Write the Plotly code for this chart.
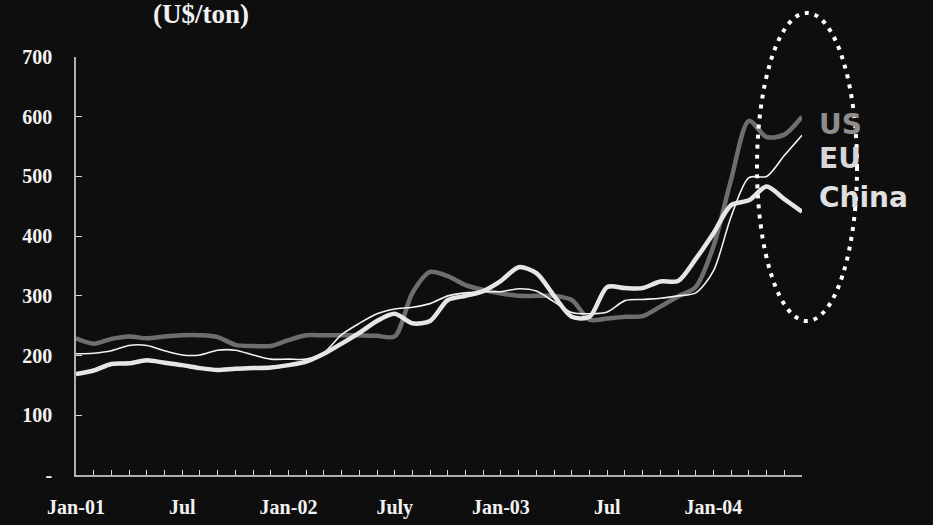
import plotly.graph_objects as go

# Monthly prices, Jan-2001 .. Jun-2004 (U$/ton)
months = list(range(42))
us = [229, 220, 228, 232, 229, 232, 234, 234, 231, 218, 216, 216, 226, 234,
      234, 234, 234, 233, 232, 305, 340, 333, 318, 310, 304, 300, 300, 300,
      293, 260, 262, 265, 266, 282, 299, 315, 383, 495, 593, 566, 570, 600]
eu = [203, 204, 208, 217, 217, 208, 201, 201, 209, 209, 201, 194, 194, 194,
      205, 235, 254, 270, 278, 281, 287, 300, 305, 307, 307, 312, 308, 290,
      272, 270, 273, 292, 294, 296, 300, 305, 342, 433, 498, 500, 535, 569]
china = [169, 175, 186, 187, 192, 188, 184, 179, 176, 178, 179, 180, 184, 190,
         203, 220, 238, 258, 270, 254, 258, 293, 300, 308, 325, 348, 338, 300,
         265, 265, 315, 313, 313, 324, 325, 362, 405, 452, 460, 483, 462, 441]

x_labels = {0: "Jan-01", 6: "Jul", 12: "Jan-02", 18: "July",
            24: "Jan-03", 30: "Jul", 36: "Jan-04"}
y_ticks = [0, 100, 200, 300, 400, 500, 600, 700]
y_labels = ["-", "100", "200", "300", "400", "500", "600", "700"]

series = [
    ("US", us, "#6e6e6e", 4.5, "#8e8e8e"),
    ("EU", eu, "#f2f2f2", 1.6, "#d6d6d6"),
    ("China", china, "#e6e6e6", 4.5, "#e0e0e0"),
]

BG = "#0e0e0e"
fig = go.Figure()
for name, vals, color, width, _ in series:
    fig.add_trace(go.Scatter(
        x=months, y=vals, mode="lines", name=name,
        line=dict(color=color, width=width, shape="spline", smoothing=0.8),
    ))

serif_bold = dict(family="Liberation Serif", size=20, color="#f2f2f2", weight="bold")

fig.update_layout(
    width=933, height=525,
    margin=dict(l=76, r=131, t=57, b=50),
    paper_bgcolor=BG, plot_bgcolor=BG,
    showlegend=False,
    xaxis=dict(
        range=[0, 41], showgrid=False, zeroline=False, automargin=False,
        showline=True, linecolor="#b0b0b0", linewidth=1.5,
        tickmode="array", tickvals=months,
        ticktext=[x_labels.get(m, "") for m in months],
        ticks="inside", ticklen=5, tickwidth=1, tickcolor="#d8d8d8",
        tickfont=serif_bold, ticklabelstandoff=13,
    ),
    yaxis=dict(
        range=[0, 700], showgrid=False, zeroline=False, automargin=False,
        showline=True, linecolor="#b0b0b0", linewidth=1.5,
        tickmode="array", tickvals=y_ticks, ticktext=y_labels,
        ticks="inside", ticklen=6, tickwidth=1, tickcolor="#d8d8d8",
        tickfont=serif_bold, ticklabelstandoff=18,
    ),
)

# Series labels to the right of the line ends
label_y = {"US": 0.838, "EU": 0.756, "China": 0.665}
for name, _, _, _, tcolor in series:
    fig.add_annotation(
        xref="paper", yref="paper", x=1.02, y=label_y[name],
        xanchor="left", yanchor="middle", showarrow=False, text=name,
        font=dict(family="DejaVu Sans", size=28, color=tcolor, weight="bold"),
    )

# Unit title
fig.add_annotation(
    xref="paper", yref="paper", x=0.172, y=1.102,
    xanchor="center", yanchor="middle", showarrow=False, text="(U$/ton)",
    font=dict(family="Liberation Serif", size=27, color="#f2f2f2", weight="bold"),
)

# Dotted ellipse highlighting the latest months
fig.add_shape(
    type="circle", xref="paper", yref="paper",
    x0=0.938, x1=1.0758, y0=0.3684, y1=1.1053,
    line=dict(color="white", width=4, dash="4px,6px"),
    layer="above",
)

fig.write_html("out.html")
